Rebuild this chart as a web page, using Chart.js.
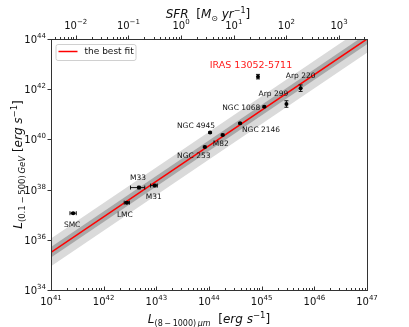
<!DOCTYPE html>
<html>
<head>
<meta charset="utf-8">
<script src="https://cdn.jsdelivr.net/npm/chart.js@4.4.0/dist/chart.umd.min.js"></script>
<style>
html, body { margin: 0; padding: 0; background: #fff; }
</style>
</head>
<body>
<canvas id="myChart" width="409" height="327"></canvas>
<script>
// galaxies (log10 of luminosities)
const names = ['IRAS 13052-5711', 'Arp 220', 'Arp 299', 'NGC 1068', 'NGC 2146', 'NGC 4945',
               'M82', 'NGC 253', 'M33', 'M31', 'LMC', 'SMC'];
const logLir = [44.93, 45.74, 45.47, 45.05, 44.59, 44.02, 44.26, 43.92, 42.67, 42.97, 42.44, 41.42];
const logLgam = [42.50, 42.04, 41.41, 41.30, 40.64, 40.27, 40.18, 39.70, 38.08, 38.16, 37.48, 37.06];
const xErrLo = [0, 0, 0, 0, 0, 0, 0, 0, 0.16, 0.08, 0.05, 0.06];
const xErrHi = [0, 0, 0, 0, 0, 0, 0, 0, 0.11, 0.05, 0.05, 0.06];
const yErr = [0.09, 0.13, 0.13, 0.03, 0.03, 0.03, 0.03, 0.03, 0.05, 0.05, 0.04, 0.03];

// best fit line and its two bands (log values at both ends of the x range)
const fitLogX = [41, 47];
const fitLogY = [35.50, 44.00];
const innerUp = [35.71, 44.21];
const innerLo = [35.29, 43.79];
const outerUp = [36.05, 44.55];
const outerLo = [34.95, 43.45];

// tick labels (exponents)
const xTickExp = [41, 42, 43, 44, 45, 46, 47];
const yTickExp = [34, 36, 38, 40, 42, 44];
const sfrTickExp = [-2, -1, 0, 1, 2, 3];
const sfrLogOffset = 43.47; // log L_IR where SFR = 1

// label placement relative to each point (pixels)
const labelDx = [-7, 0, -13, -23, 21, -14, -2, -11, -1, -1, -2, -1];
const labelDy = [-11, -12.5, -10, 1, 7, -7, 9.5, 9, -10, 11, 12, 12];

const FONT = "'DejaVu Sans', sans-serif";

function pts(xs, ys) {
    return xs.map((x, i) => ({ x: Math.pow(10, x), y: Math.pow(10, ys[i]) }));
}

function richText(ctx, parts, x, y, align) {
    let w = 0;
    parts.forEach(p => {
        ctx.font = (p.i ? 'italic ' : '') + p.s + 'px ' + FONT;
        p.w = ctx.measureText(p.t).width;
        w += p.w;
    });
    let cx = align === 'center' ? x - w / 2 : (align === 'right' ? x - w : x);
    ctx.textAlign = 'left';
    ctx.textBaseline = 'alphabetic';
    parts.forEach(p => {
        ctx.font = (p.i ? 'italic ' : '') + p.s + 'px ' + FONT;
        ctx.fillText(p.t, cx, y + (p.dy || 0));
        cx += p.w;
    });
}

function powLabel(exp) {
    return [{ t: '10', s: 10 }, { t: String(exp).replace('-', '\u2212'), s: 7, dy: -5 }];
}

const decorPlugin = {
    id: 'decor',
    afterDatasetsDraw(chart) {
        const ctx = chart.ctx;
        const sx = chart.scales.x, sy = chart.scales.y;
        ctx.save();
        // error bars
        ctx.strokeStyle = '#000';
        ctx.lineWidth = 0.9;
        names.forEach((n, i) => {
            const px = sx.getPixelForValue(Math.pow(10, logLir[i]));
            const py = sy.getPixelForValue(Math.pow(10, logLgam[i]));
            ctx.beginPath();
            if (xErrLo[i] > 0) {
                const x1 = sx.getPixelForValue(Math.pow(10, logLir[i] - xErrLo[i]));
                const x2 = sx.getPixelForValue(Math.pow(10, logLir[i] + xErrHi[i]));
                ctx.moveTo(x1, py); ctx.lineTo(x2, py);
                ctx.moveTo(x1, py - 2); ctx.lineTo(x1, py + 2);
                ctx.moveTo(x2, py - 2); ctx.lineTo(x2, py + 2);
            }
            const y1 = sy.getPixelForValue(Math.pow(10, logLgam[i] - yErr[i]));
            const y2 = sy.getPixelForValue(Math.pow(10, logLgam[i] + yErr[i]));
            ctx.moveTo(px, y1); ctx.lineTo(px, y2);
            ctx.moveTo(px - 2, y1); ctx.lineTo(px + 2, y1);
            ctx.moveTo(px - 2, y2); ctx.lineTo(px + 2, y2);
            ctx.stroke();

            // name label
            ctx.textAlign = 'center';
            ctx.textBaseline = 'middle';
            if (i === 0) {
                ctx.fillStyle = '#ff1a1a';
                ctx.font = '9.5px ' + FONT;
            } else {
                ctx.fillStyle = '#111';
                ctx.font = '7.5px ' + FONT;
            }
            ctx.fillText(n, px + labelDx[i], py + labelDy[i]);
        });
        ctx.restore();
    },
    afterDraw(chart) {
        const ctx = chart.ctx;
        const a = chart.chartArea;
        const sx = chart.scales.x, sy = chart.scales.y, s2 = chart.scales.x2;
        ctx.save();
        ctx.strokeStyle = '#333';
        ctx.lineWidth = 1;
        ctx.strokeRect(Math.round(a.left) + 0.5, Math.round(a.top) + 0.5,
            Math.round(a.right - a.left), Math.round(a.bottom - a.top));

        ctx.beginPath();
        // bottom axis ticks (inward)
        for (let d = 41; d <= 47; d++) {
            const px = Math.round(sx.getPixelForValue(Math.pow(10, d))) + 0.5;
            ctx.moveTo(px, a.bottom); ctx.lineTo(px, a.bottom - 3.5);
            if (d < 47) {
                for (let m = 2; m <= 9; m++) {
                    const mx = Math.round(sx.getPixelForValue(m * Math.pow(10, d))) + 0.5;
                    ctx.moveTo(mx, a.bottom); ctx.lineTo(mx, a.bottom - 2);
                }
            }
        }
        // top SFR axis ticks (outward)
        for (let d = -3; d <= 3; d++) {
            for (let m = 1; m <= 9; m++) {
                const v = m * Math.pow(10, d);
                if (v < s2.min || v > s2.max) continue;
                const mx = Math.round(s2.getPixelForValue(v)) + 0.5;
                ctx.moveTo(mx, a.top); ctx.lineTo(mx, a.top - (m === 1 ? 3.5 : 2));
            }
        }
        // left axis ticks (outward)
        yTickExp.forEach(e => {
            const py = Math.round(sy.getPixelForValue(Math.pow(10, e))) + 0.5;
            ctx.moveTo(a.left, py); ctx.lineTo(a.left - 3.5, py);
        });
        ctx.stroke();

        ctx.fillStyle = '#111';
        xTickExp.forEach(e => {
            richText(ctx, powLabel(e), sx.getPixelForValue(Math.pow(10, e)), 305, 'center');
        });
        sfrTickExp.forEach(e => {
            richText(ctx, powLabel(e), s2.getPixelForValue(Math.pow(10, e)), 29, 'center');
        });
        yTickExp.forEach(e => {
            richText(ctx, powLabel(e), a.left - 5, sy.getPixelForValue(Math.pow(10, e)) + 4, 'right');
        });

        // axis titles
        richText(ctx, [
            { t: 'L', s: 12, i: true },
            { t: '(8\u2009\u2212\u20091000)\u2009', s: 8, dy: 3 },
            { t: '\u03bcm', s: 8, i: true, dy: 3 },
            { t: '  [', s: 12 },
            { t: 'erg s', s: 12, i: true },
            { t: '\u22121', s: 8.5, dy: -5 },
            { t: ']', s: 12 }
        ], (a.left + a.right) / 2, 323, 'center');

        richText(ctx, [
            { t: 'SFR', s: 12, i: true },
            { t: '  [', s: 12 },
            { t: 'M', s: 12, i: true },
            { t: '\u2299', s: 8, dy: 3 },
            { t: ' ', s: 12 },
            { t: 'yr', s: 12, i: true },
            { t: '\u22121', s: 8, dy: -5 },
            { t: ']', s: 12 }
        ], (a.left + a.right) / 2 - 1, 18, 'center');

        ctx.save();
        ctx.translate(22, (a.top + a.bottom) / 2);
        ctx.rotate(-Math.PI / 2);
        richText(ctx, [
            { t: 'L', s: 12, i: true },
            { t: '(0.1\u2009\u2212\u2009500)\u2009', s: 8.5, dy: 3 },
            { t: 'GeV', s: 8.5, i: true, dy: 3 },
            { t: ' [', s: 12 },
            { t: 'erg s', s: 12, i: true },
            { t: '\u22121', s: 8.5, dy: -5 },
            { t: ']', s: 12 }
        ], 0, 0, 'center');
        ctx.restore();

        // legend
        const lx = a.left + 4.5, ly = a.top + 5;
        ctx.fillStyle = 'rgba(255,255,255,0.8)';
        ctx.strokeStyle = '#d0d0d0';
        ctx.beginPath();
        ctx.roundRect(lx + 0.5, ly + 0.5, 80, 16, 2);
        ctx.fill();
        ctx.stroke();
        ctx.strokeStyle = 'red';
        ctx.lineWidth = 1.5;
        ctx.beginPath();
        ctx.moveTo(lx + 3, ly + 7.5); ctx.lineTo(lx + 22, ly + 7.5);
        ctx.stroke();
        ctx.fillStyle = '#111';
        ctx.font = '9px ' + FONT;
        ctx.textAlign = 'left';
        ctx.textBaseline = 'middle';
        ctx.fillText('the best fit', lx + 29, ly + 8);
        ctx.restore();
    }
};

const canvas = document.getElementById('myChart');
const myChart = new Chart(canvas.getContext('2d'), {
    type: 'scatter',
    data: {
        datasets: [{
            label: 'galaxies',
            data: pts(logLir, logLgam),
            backgroundColor: '#000',
            borderColor: '#000',
            borderWidth: 0,
            pointRadius: 2,
            order: 0
        }, {
            type: 'line',
            label: 'the best fit',
            data: pts(fitLogX, fitLogY),
            borderColor: '#ff0000',
            borderWidth: 1.5,
            pointRadius: 0,
            fill: false,
            order: 1
        }, {
            type: 'line',
            data: pts(fitLogX, innerUp),
            borderWidth: 0,
            pointRadius: 0,
            backgroundColor: '#a8a8a8',
            fill: '+1',
            order: 2
        }, {
            type: 'line',
            data: pts(fitLogX, innerLo),
            borderWidth: 0,
            pointRadius: 0,
            fill: false,
            order: 2
        }, {
            type: 'line',
            data: pts(fitLogX, outerUp),
            borderWidth: 0,
            pointRadius: 0,
            backgroundColor: '#dadada',
            fill: '+1',
            order: 3
        }, {
            type: 'line',
            data: pts(fitLogX, outerLo),
            borderWidth: 0,
            pointRadius: 0,
            fill: false,
            order: 3
        }]
    },
    options: {
        responsive: false,
        animation: false,
        layout: { padding: { left: 51, right: 42, top: 39, bottom: 37 } },
        scales: {
            x: { type: 'logarithmic', min: 1e41, max: 1e47, display: false },
            x2: {
                type: 'logarithmic', position: 'top', axis: 'x', display: false,
                min: Math.pow(10, 41 - sfrLogOffset), max: Math.pow(10, 47 - sfrLogOffset)
            },
            y: { type: 'logarithmic', min: 1e34, max: 1e44, display: false }
        },
        plugins: {
            legend: { display: false },
            tooltip: { enabled: false }
        }
    },
    plugins: [decorPlugin]
});
</script>
</body>
</html>
